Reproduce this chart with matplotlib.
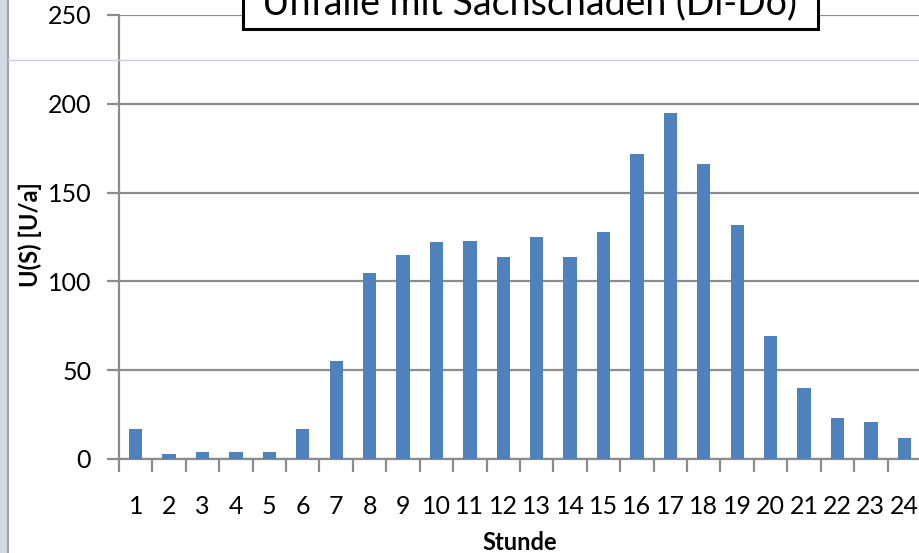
import numpy as np
import matplotlib.pyplot as plt
from matplotlib.patches import Rectangle
from matplotlib.lines import Line2D

# Unfälle mit Sachschaden je Stunde (Di-Do)
stunden = list(range(1, 25))
unfaelle = [17, 3, 4, 4, 4, 17, 55, 105, 115, 122, 123, 114,
            125, 114, 128, 172, 195, 166, 132, 69, 40, 23, 21, 12]

plt.rcParams['font.family'] = ['Lato', 'DejaVu Sans']

W, H = 920, 553
fig = plt.figure(figsize=(W / 100, H / 100), dpi=100)

# Tabellenrand links und Zeilenlinie der Tabelle
fig.patches.append(Rectangle((0, 0), 7 / W, 1, transform=fig.transFigure,
                             color='#d4d7e6', zorder=0))
fig.lines.append(Line2D([8 / W, 8 / W], [0, 1], transform=fig.transFigure,
                        color='#a0a0a0', lw=1.5, zorder=1))
fig.lines.append(Line2D([8 / W, 1], [1 - 60 / H] * 2, transform=fig.transFigure,
                        color='#cfcbe2', lw=1, zorder=1))

ax = fig.add_axes([119 / W, 94 / H, 802 / W, 444 / H])
ax.set_facecolor('none')

ax.bar(stunden, unfaelle, width=0.4, color='#4f81bd', zorder=3)

ax.set_xlim(0.5, 24.5)
ax.set_ylim(0, 250)
ax.set_yticks(np.arange(0, 251, 50))
ax.yaxis.grid(True, color='#8c8c8c', lw=1.6, zorder=0)

ax.set_xticks(stunden)
ax.set_xticks(np.arange(0.5, 25, 1), minor=True)
ax.tick_params(axis='x', which='major', length=0, pad=26, labelsize=18)
ax.tick_params(axis='x', which='minor', length=9, width=1.6, color='#8c8c8c')
ax.tick_params(axis='y', length=9, width=1.6, color='#8c8c8c', pad=11, labelsize=18)

for s in ['top', 'right']:
    ax.spines[s].set_visible(False)
for s in ['left', 'bottom']:
    ax.spines[s].set_color('#8c8c8c')
    ax.spines[s].set_linewidth(1.6)

fig.text(30 / W, 1 - 235 / H, 'U(S) [U/a]', rotation=90, ha='center', va='center',
         fontsize=17, fontweight='bold')
fig.text(520 / W, 1 - 543 / H, 'Stunde', ha='center', va='center',
         fontsize=17, fontweight='bold')

# Titelkasten
fig.patches.append(Rectangle((243 / W, 1 - 29 / H), 575 / W, 40 / H,
                             transform=fig.transFigure, facecolor='white',
                             edgecolor='black', lw=2.2, zorder=5))
fig.text(530 / W, 1 - 14 / H, 'Unfälle mit Sachschaden (Di-Do)', ha='center',
         va='baseline', fontsize=27, zorder=6)

fig.savefig('out.png', dpi=100)
